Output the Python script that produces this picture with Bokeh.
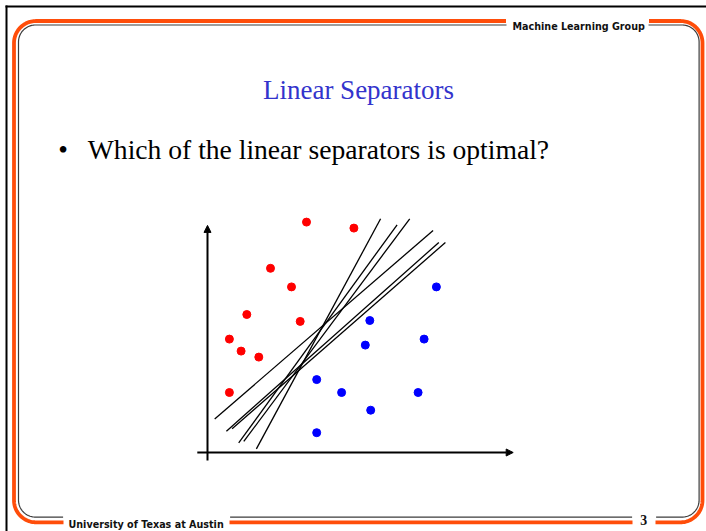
import numpy as np
from bokeh.plotting import figure
from bokeh.models import Range1d, Arrow, NormalHead
from bokeh.core.properties import value
from bokeh.embed import file_html
from bokeh.resources import INLINE

# ---- chart data (axis units) ----
red_x = [3.30, 4.88, 2.10, 2.80, 1.31, 3.09, 0.73, 1.12, 1.71, 0.73]
red_y = [7.68, 7.48, 6.14, 5.52, 4.60, 4.37, 3.78, 3.38, 3.18, 2.00]

blue_x = [7.63, 5.41, 7.22, 5.26, 3.64, 4.47, 7.02, 5.44, 3.64]
blue_y = [5.52, 4.40, 3.78, 3.58, 2.43, 2.00, 2.00, 1.41, 0.66]

# candidate separating lines: start and end points
sep_x0 = [1.63, 1.04, 1.21, 0.24, 0.63, 0.82]
sep_y0 = [0.12, 0.32, 0.37, 1.12, 0.71, 0.79]
sep_x1 = [5.77, 6.32, 6.74, 7.52, 7.71, 7.93]
sep_y1 = [7.79, 7.59, 7.79, 7.40, 7.00, 7.00]

# ---- slide texts ----
title_text = "Linear Separators"
bullet_text = "Which of the linear separators is optimal?"
header_text = "Machine Learning Group"
footer_text = "University of Texas at Austin"
page_number = "3"

W, H = 706, 531
ORIGIN_X, ORIGIN_Y, UNIT = 207.0, 452.0, 30.0  # where the chart's origin sits, px per unit

p = figure(width=W, height=H, x_range=Range1d(0, W), y_range=Range1d(H, 0),
           x_axis_type=None, y_axis_type=None, output_backend="svg",
           toolbar_location=None, min_border=0)
p.grid.visible = False
p.outline_line_color = None
p.background_fill_color = "white"
p.border_fill_color = "white"

# named ranges for the scatter chart in axis units
p.extra_x_ranges = {"data": Range1d(-ORIGIN_X / UNIT, (W - ORIGIN_X) / UNIT)}
p.extra_y_ranges = {"data": Range1d((ORIGIN_Y - H) / UNIT, ORIGIN_Y / UNIT)}


# ---- slide frame ----
def rounded_rect(x0, y0, x1, y1, r):
    pts = []
    def arc(cx, cy, a0, a1):
        t = np.radians(np.linspace(a0, a1, 30))
        return list(zip(cx + r * np.cos(t), cy + r * np.sin(t)))
    pts += [(x, y0) for x in np.arange(x0 + r, x1 - r, 1.0)]
    pts += arc(x1 - r, y0 + r, -90, 0)
    pts += [(x1, y) for y in np.arange(y0 + r, y1 - r, 1.0)]
    pts += arc(x1 - r, y1 - r, 0, 90)
    pts += [(x, y1) for x in np.arange(x1 - r, x0 + r, -1.0)]
    pts += arc(x0 + r, y1 - r, 90, 180)
    pts += [(x0, y) for y in np.arange(y1 - r, y0 + r, -1.0)]
    pts += arc(x0 + r, y0 + r, 180, 270)
    return np.array(pts)


def frame_pieces(x0, y0, x1, y1, r, top_gaps, bottom_gaps):
    pts = rounded_rect(x0, y0, x1, y1, r)
    keep = np.ones(len(pts), dtype=bool)
    for a, b in top_gaps:
        keep &= ~((np.abs(pts[:, 1] - y0) < 0.5) & (pts[:, 0] > a) & (pts[:, 0] < b))
    for a, b in bottom_gaps:
        keep &= ~((np.abs(pts[:, 1] - y1) < 0.5) & (pts[:, 0] > a) & (pts[:, 0] < b))
    runs, cur = [], []
    for k, pt in zip(keep, pts):
        if k:
            cur.append(pt)
        elif cur:
            runs.append(cur)
            cur = []
    if cur:
        if keep[0] and runs:
            runs[0] = cur + runs[0]
        else:
            runs.append(cur)
    xs = [[q[0] for q in run] for run in runs]
    ys = [[q[1] for q in run] for run in runs]
    return xs, ys


top_gaps = [(506, 648)]
bottom_gaps = [(63, 229), (632, 655)]

ox, oy = frame_pieces(13.5, 20.5, 702.0, 521.8, 22, top_gaps, bottom_gaps)
p.multi_line(ox, oy, line_color="#ff4d0a", line_width=3.8)
gx, gy = frame_pieces(18.0, 24.5, 698.6, 516.6, 17, top_gaps, bottom_gaps)
p.multi_line(gx, gy, line_color="#3c3c3c", line_width=1.2)

# black border along the top and left edges
p.line([5, W], [6, 6], line_color="black", line_width=2)
p.line([6, 6], [5, H], line_color="black", line_width=2)

# header / footer texts
p.text(x=[512], y=[26], text=[header_text], text_font=value("DejaVu Sans"),
       text_font_style="bold", text_font_size="9.6px", text_color="#111111",
       text_baseline="alphabetic", text_align="left")
p.text(x=[68], y=[524.3], text=[footer_text], text_font=value("DejaVu Sans"),
       text_font_style="bold", text_font_size="9.6px", text_color="#111111",
       text_baseline="alphabetic", text_align="left")
p.text(x=[643.2], y=[519.6], text=[page_number], text_font=value("Liberation Serif"),
       text_font_style="bold", text_font_size="13.8px", text_color="#111111",
       text_baseline="middle", text_align="center")

# title and bullet
p.text(x=[358], y=[89.3], text=[title_text], text_font=value("Liberation Serif"),
       text_font_size="27px", text_color="#3333cc",
       text_baseline="alphabetic", text_align="center")
p.text(x=[87.3], y=[149], text=[bullet_text], text_font=value("Liberation Serif"),
       text_font_size="27.6px", text_color="black",
       text_baseline="alphabetic", text_align="left")
p.text(x=[62.5], y=[149], text=["\u2022"], text_font=value("Liberation Serif"),
       text_font_size="27.6px", text_color="black",
       text_baseline="alphabetic", text_align="center")

# ---- scatter chart ----
p.add_layout(Arrow(x_start=0, y_start=-0.27, x_end=0, y_end=7.57,
                   x_range_name="data", y_range_name="data",
                   line_width=2, line_color="black",
                   end=NormalHead(size=7, fill_color="black", line_color="black")))
p.add_layout(Arrow(x_start=-0.34, y_start=0, x_end=10.19, y_end=0,
                   x_range_name="data", y_range_name="data",
                   line_width=2, line_color="black",
                   end=NormalHead(size=7, fill_color="black", line_color="black")))

p.segment(x0=sep_x0, y0=sep_y0, x1=sep_x1, y1=sep_y1,
          x_range_name="data", y_range_name="data",
          line_color="black", line_width=1.3)

p.scatter(red_x, red_y, size=8, fill_color="#ff0000", line_color="#ff0000",
          x_range_name="data", y_range_name="data")
p.scatter(blue_x, blue_y, size=8, fill_color="#0000ff", line_color="#0000ff",
          x_range_name="data", y_range_name="data")

open("out.html", "w").write(file_html(p, INLINE))
